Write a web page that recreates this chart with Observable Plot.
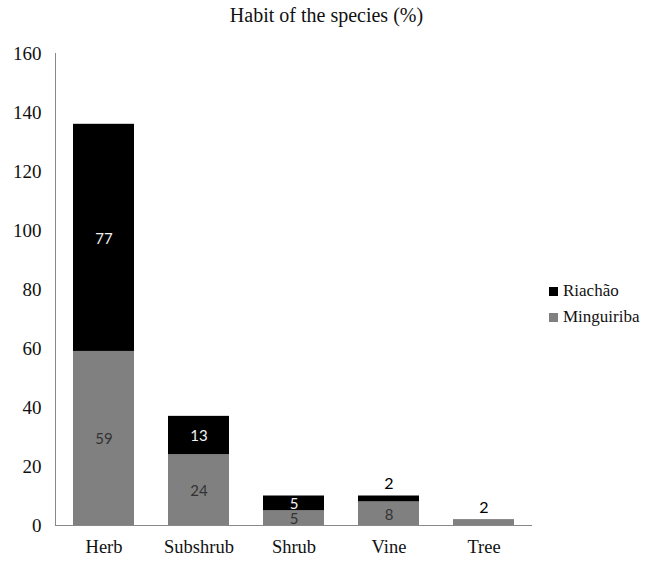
<!DOCTYPE html>
<html>
<head>
<meta charset="utf-8">
<script src="https://cdn.jsdelivr.net/npm/d3@7"></script>
<script src="https://cdn.jsdelivr.net/npm/@observablehq/plot@0.6"></script>
<style>
  body { margin: 0; background: #fff; }
  #wrap { position: relative; width: 653px; height: 562px; font-family: "Liberation Serif", "DejaVu Serif", serif; }
  #title { position: absolute; left: 0; top: 4px; width: 653px; text-align: center; font-size: 20px; color: #111; font-family: "Liberation Serif", serif; }
  #chart { position: absolute; left: 0; top: 36px; }
  .leg { position: absolute; left: 549px; font-size: 17px; color: #111; display: flex; align-items: center; font-family: "Liberation Serif", serif; }
  .leg span.sw { display: inline-block; width: 9px; height: 9px; margin-right: 5px; }
</style>
</head>
<body>
<div id="wrap">
  <div id="title">Habit of the species (%)</div>
  <div id="chart"></div>
  <div id="legend"></div>
</div>
<script>
const categories = ["Herb", "Subshrub", "Shrub", "Vine", "Tree"];
const series = ["Minguiriba", "Riachão"];
const minguiriba = [59, 24, 5, 8, 2];
const riachao = [77, 13, 5, 2, 0];
const yTicks = [0, 20, 40, 60, 80, 100, 120, 140, 160];
const colors = ["#808080", "#000000"];

const data = [];
categories.forEach((c, i) => {
  data.push({habit: c, series: series[0], value: minguiriba[i]});
  data.push({habit: c, series: series[1], value: riachao[i]});
});

const serif = "'Liberation Serif', serif";
const sans = "Lato, 'Open Sans', sans-serif";

const chart = Plot.plot({
  width: 653,
  height: 526,
  marginTop: 17,
  marginBottom: 37,
  marginLeft: 55,
  marginRight: 121,
  x: {domain: categories, paddingInner: 0.36, paddingOuter: 0.18, label: null},
  y: {domain: [0, 160], ticks: yTicks, label: null},
  color: {domain: series, range: colors},
  style: {fontFamily: serif, fontSize: "16px", color: "#111", background: "#fff"},
  marks: [
    Plot.barY(data, {x: "habit", y: "value", fill: "series", order: null}),
    Plot.text(data, Plot.stackY({x: "habit", y: "value", order: null,
      text: d => d.value >= 5 ? String(d.value) : "",
      fill: d => d.series === "Riachão" ? "#f2f2f2" : "#333333",
      fontFamily: sans, fontSize: 15, dy: 1})),
    Plot.text(data, Plot.stackY2({x: "habit", y: "value", order: null,
      text: d => (d.value > 0 && d.value < 5) ? String(d.value) : "",
      fill: "#000", fontFamily: sans, fontSize: 16, dy: -12})),
    Plot.axisY({ticks: yTicks, tickSize: 0, tickPadding: 14, fontSize: 19, fontFamily: serif, fill: "#111", label: null}),
    Plot.axisX({tickSize: 0, tickPadding: 14, fontSize: 18.5, fontFamily: serif, fill: "#111", label: null}),
    Plot.frame({anchor: "left", stroke: "#888"}),
    Plot.ruleY([0], {stroke: "#888"})
  ]
});
document.getElementById("chart").appendChild(chart);

const legend = document.getElementById("legend");
const legendTops = {"Riachão": 281, "Minguiriba": 307};
["Riachão", "Minguiriba"].forEach(s => {
  const div = document.createElement("div");
  div.className = "leg";
  div.style.top = legendTops[s] + "px";
  const sw = document.createElement("span");
  sw.className = "sw";
  sw.style.background = colors[series.indexOf(s)];
  div.appendChild(sw);
  div.appendChild(document.createTextNode(s));
  legend.appendChild(div);
});
</script>
</body>
</html>
